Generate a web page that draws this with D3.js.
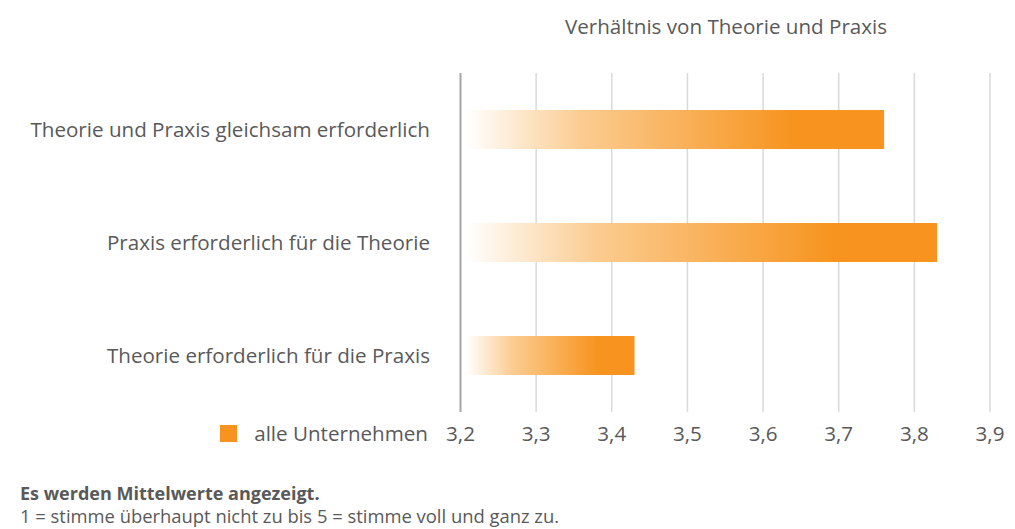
<!DOCTYPE html>
<html>
<head>
<meta charset="utf-8">
<script src="https://cdn.jsdelivr.net/npm/d3@7"></script>
<style>
  body { margin: 0; background: #fff; }
  text { font-family: "Open Sans", sans-serif; fill: #595959; }
</style>
</head>
<body>
<div class="chart"></div>
<script>
const categories = ["Theorie und Praxis gleichsam erforderlich", "Praxis erforderlich für die Theorie", "Theorie erforderlich für die Praxis"];
const values = [3.76, 3.83, 3.43];
const ticks = [3.2, 3.3, 3.4, 3.5, 3.6, 3.7, 3.8, 3.9];
const seriesName = "alle Unternehmen";
const title = "Verhältnis von Theorie und Praxis";
const notes = ["Es werden Mittelwerte angezeigt.", "1 = stimme überhaupt nicht zu bis 5 = stimme voll und ganz zu."];

const width = 1015, height = 529;
const svg = d3.select(".chart").append("svg")
    .attr("width", width)
    .attr("height", height);

const xScale = d3.scaleLinear()
    .domain([3.2, 3.9])
    .range([460.5, 990]);
const yScale = d3.scaleBand()
    .domain(categories)
    .range([73, 412])
    .paddingInner(0.655)
    .paddingOuter(0.3275);

// gradient per bar
const defs = svg.append("defs");
const grad = defs.append("linearGradient")
    .attr("id", "barGrad")
    .attr("x1", "0").attr("x2", "1").attr("y1", "0").attr("y2", "0");
grad.append("stop").attr("offset", "0").attr("stop-color", "#ffffff");
grad.append("stop").attr("offset", "0.28").attr("stop-color", "#fbcb8f");
grad.append("stop").attr("offset", "0.78").attr("stop-color", "#f7941f");
grad.append("stop").attr("offset", "1").attr("stop-color", "#f7931e");

// gridlines
svg.selectAll(".grid")
    .data(ticks.slice(1))
    .enter()
    .append("line")
    .attr("x1", d => xScale(d)).attr("x2", d => xScale(d))
    .attr("y1", 73).attr("y2", 412)
    .attr("stroke", "#d9d9d9")
    .attr("stroke-width", 1.5);

// bars
svg.selectAll(".bar")
    .data(values)
    .enter()
    .append("rect")
    .attr("x", xScale(3.2) + 6)
    .attr("y", (d, i) => yScale(categories[i]))
    .attr("width", d => xScale(d) - xScale(3.2) - 6)
    .attr("height", yScale.bandwidth())
    .style("fill", "url(#barGrad)");

// axis line
svg.append("line")
    .attr("x1", xScale(3.2)).attr("x2", xScale(3.2))
    .attr("y1", 73).attr("y2", 412)
    .attr("stroke", "#a6a6a6")
    .attr("stroke-width", 2);

// category labels
svg.selectAll(".cat")
    .data(categories)
    .enter()
    .append("text")
    .attr("x", 430)
    .attr("y", d => yScale(d) + yScale.bandwidth() / 2)
    .attr("dy", "0.35em")
    .attr("text-anchor", "end")
    .attr("font-size", 20.6)
    .text(d => d);

// tick labels
const fmt = d3.format(".1f");
svg.selectAll(".tick")
    .data(ticks)
    .enter()
    .append("text")
    .attr("x", d => xScale(d))
    .attr("y", 434)
    .attr("dy", "0.35em")
    .attr("text-anchor", "middle")
    .attr("font-size", 20.6)
    .text(d => fmt(d).replace(".", ","));

// legend
svg.append("rect")
    .attr("x", 220).attr("y", 425)
    .attr("width", 17).attr("height", 17)
    .style("fill", "#f7931e");
svg.append("text")
    .attr("x", 428).attr("y", 434)
    .attr("dy", "0.35em")
    .attr("text-anchor", "end")
    .attr("font-size", 20.6)
    .text(seriesName);

// title
svg.append("text")
    .attr("x", 726).attr("y", 27)
    .attr("dy", "0.35em")
    .attr("text-anchor", "middle")
    .attr("font-size", 20.6)
    .text(title);

// notes
svg.append("text")
    .attr("x", 20).attr("y", 494)
    .attr("dy", "0.35em")
    .attr("font-size", 18)
    .attr("font-weight", "bold")
    .text(notes[0]);
svg.append("text")
    .attr("x", 20).attr("y", 517)
    .attr("dy", "0.35em")
    .attr("font-size", 18.4)
    .text(notes[1]);
</script>
</body>
</html>
